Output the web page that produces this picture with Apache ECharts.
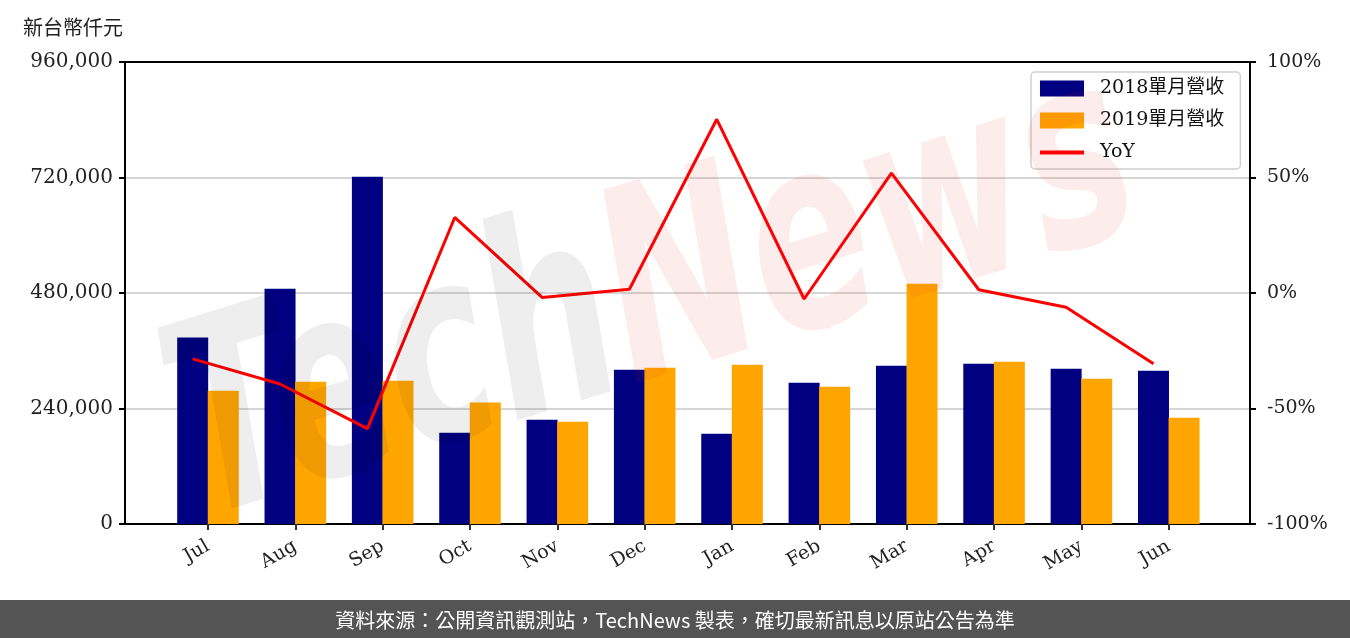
<!DOCTYPE html>
<html>
<head>
<meta charset="utf-8">
<script src="https://cdn.jsdelivr.net/npm/echarts@6/dist/echarts.min.js"></script>
<style>
  html, body { margin: 0; padding: 0; background: #fff; }
  #main { width: 1350px; height: 638px; }
</style>
</head>
<body>
<div id="main"></div>
<script>
var months = ['Jul', 'Aug', 'Sep', 'Oct', 'Nov', 'Dec', 'Jan', 'Feb', 'Mar', 'Apr', 'May', 'Jun'];
var rev2018 = [387600, 488800, 721400, 189700, 216700, 320500, 187600, 293500, 328800, 333000, 322600, 318400];
var rev2019 = [276900, 295600, 297700, 252600, 212500, 324700, 330900, 285200, 499200, 337100, 301800, 220800];
var yoy = [-28.5, -39.4, -58.7, 32.7, -1.9, 1.6, 75.2, -2.6, 51.9, 1.4, -6.2, -30.6];
var leftTicks = [0, 240000, 480000, 720000, 960000];
var rightTicks = [-100, -50, 0, 50, 100];

var serif = 'DejaVu Serif, Noto Sans CJK TC';
var cjk = 'Noto Sans CJK TC, Noto Sans';

// bars sit either side of the month tick, line goes through the 2018 bar
var off = 0.175;
var idx = months.map(function (m, i) { return i; });

var chart = echarts.init(document.getElementById('main'));

var option = {
  animation: false,
  title: {
    text: '新台幣仟元',
    left: 18,
    top: 12,
    textStyle: { fontFamily: cjk, fontSize: 20, fontWeight: 'normal', color: '#222' }
  },
  grid: {
    left: 125, right: 100, top: 62, bottom: 114,
    show: true, borderColor: '#000', borderWidth: 2, backgroundColor: 'transparent'
  },
  legend: {
    orient: 'vertical',
    left: 1031, top: 72,
    padding: [7, 16, 7, 7],
    itemGap: 13,
    itemWidth: 44, itemHeight: 16,
    backgroundColor: 'rgba(255,255,255,0.85)',
    borderColor: '#d0d0d0', borderWidth: 1.5, borderRadius: 4,
    textStyle: { fontFamily: serif, fontSize: 19, color: '#111', padding: [0, 0, 0, 11] },
    data: [
      { name: '2018單月營收', icon: 'rect' },
      { name: '2019單月營收', icon: 'rect' },
      { name: 'YoY', itemStyle: { opacity: 0 }, lineStyle: { width: 4 } }
    ]
  },
  xAxis: {
    type: 'value',
    min: -0.95, max: 11.93,
    splitLine: { show: false },
    axisLine: { onZero: false, lineStyle: { color: '#000', width: 2 } },
    axisTick: { show: true, customValues: idx, length: 6, lineStyle: { color: '#333', width: 2 } },
    axisLabel: {
      customValues: idx,
      rotate: 30,
      margin: 21,
      fontFamily: serif, fontSize: 19, color: '#222',
      formatter: function (v) { return months[Math.round(v)]; }
    }
  },
  yAxis: [
    {
      type: 'value',
      min: leftTicks[0], max: leftTicks[leftTicks.length - 1], interval: 240000,
      axisLine: { show: true, onZero: false, lineStyle: { color: '#000', width: 2 } },
      axisTick: { show: true, length: 6, lineStyle: { color: '#000', width: 2 } },
      axisLabel: { fontFamily: serif, fontSize: 20, color: '#222', margin: 12 },
      splitLine: { show: true, showMinLine: false, showMaxLine: false, lineStyle: { color: '#d6d6d6', width: 2 } }
    },
    {
      type: 'value',
      min: rightTicks[0], max: rightTicks[rightTicks.length - 1], interval: 50,
      axisLine: { show: true, onZero: false, lineStyle: { color: '#000', width: 2 } },
      axisTick: { show: true, length: 6, lineStyle: { color: '#000', width: 2 } },
      axisLabel: { fontFamily: serif, fontSize: 19, color: '#222', margin: 17,
        formatter: function (v) { return v + '%'; } },
      splitLine: { show: false }
    }
  ],
  series: [
    {
      name: '2018單月營收',
      type: 'bar',
      barWidth: 31,
      barGap: '-100%',
      itemStyle: { color: '#000080' },
      data: rev2018.map(function (v, i) { return [i - off, v]; })
    },
    {
      name: '2019單月營收',
      type: 'bar',
      barWidth: 31,
      barGap: '-100%',
      itemStyle: { color: '#ffa500' },
      data: rev2019.map(function (v, i) { return [i + off, v]; })
    },
    {
      name: 'YoY',
      type: 'line',
      yAxisIndex: 1,
      symbol: 'none',
      z: 5,
      lineStyle: { color: '#ff0000', width: 3 },
      itemStyle: { color: '#ff0000' },
      data: yoy.map(function (v, i) { return [i - off, v]; })
    }
  ],
  graphic: [
    // watermark
    {
      type: 'text',
      x: 655, y: 305,
      rotation: 0.3,
      scaleY: 1.5,
      silent: true,
      z: 100,
      style: {
        text: '{a|Tech}{b|News}',
        align: 'center', verticalAlign: 'middle',
        font: 'italic bold 178px DejaVu Sans',
        rich: {
          a: { fill: 'rgba(0,0,0,0.065)', font: 'italic bold 178px DejaVu Sans' },
          b: { fill: 'rgba(220,40,40,0.085)', font: 'italic bold 178px DejaVu Sans' }
        }
      }
    },
    // footer
    {
      type: 'rect',
      left: 0, bottom: 0,
      shape: { width: 1350, height: 38 },
      style: { fill: '#545454' }
    },
    {
      type: 'text',
      left: 'center', bottom: 8,
      style: {
        text: '資料來源：公開資訊觀測站，TechNews 製表，確切最新訊息以原站公告為準',
        fill: '#fff',
        font: '20px Noto Sans CJK TC'
      }
    }
  ]
};

chart.setOption(option);
</script>
</body>
</html>
